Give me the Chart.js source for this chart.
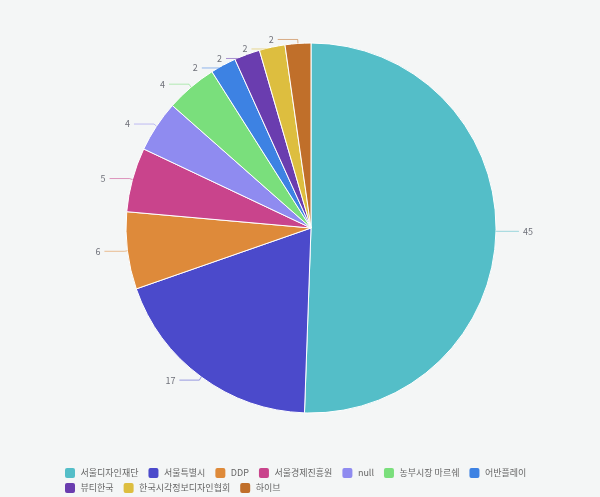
<!DOCTYPE html>
<html>
<head>
<meta charset="utf-8">
<script src="https://cdn.jsdelivr.net/npm/chart.js@4/dist/chart.umd.min.js"></script>
<style>
  html, body { margin: 0; padding: 0; background: #f4f6f6; }
  #wrap { width: 600px; height: 497px; position: relative; }
</style>
</head>
<body>
<div id="wrap"><canvas id="c" width="600" height="497"></canvas></div>
<script>
const categories = ['서울디자인재단', '서울특별시', 'DDP', '서울경제진흥원', 'null', '농부시장 마르쉐', '어반플레이', '뷰티한국', '한국시각정보디자인협회', '하이브'];
const values = [45, 17, 6, 5, 4, 4, 2, 2, 2, 2];
const colors = ['#54bec8', '#4b4acb', '#de8a3a', '#c9448c', '#8f8bf0', '#7adf7c', '#3d82e3', '#6a3daf', '#ddbe3f', '#c06f2a'];

const FONT = '"Noto Sans CJK KR", "Noto Sans", sans-serif';

function hexA(hex, a) {
  const n = parseInt(hex.slice(1), 16);
  return `rgba(${(n >> 16) & 255},${(n >> 8) & 255},${n & 255},${a})`;
}

const bgPlugin = {
  id: 'bg',
  beforeDraw(chart) {
    const ctx = chart.ctx;
    ctx.save();
    ctx.fillStyle = '#f4f6f6';
    ctx.fillRect(0, 0, chart.width, chart.height);
    ctx.restore();
  }
};

const labelPlugin = {
  id: 'leaderLabels',
  afterDatasetsDraw(chart) {
    const ctx = chart.ctx;
    const meta = chart.getDatasetMeta(0);
    const items = meta.data.map((arc, i) => {
      const p = arc.getProps(['x', 'y', 'startAngle', 'endAngle', 'outerRadius'], true);
      const m = (p.startAngle + p.endAngle) / 2;
      const r = p.outerRadius;
      const dir = Math.cos(m) >= 0 ? 1 : -1;
      return {
        i, dir,
        ax: p.x + r * Math.cos(m), ay: p.y + r * Math.sin(m),
        bx: p.x + (r + 3) * Math.cos(m),
        ly: p.y + (r + 4) * Math.sin(m)
      };
    });
    [1, -1].forEach(side => {
      const s = items.filter(o => o.dir === side).sort((a, b) => a.ly - b.ly);
      for (let k = 1; k < s.length; k++) {
        if (s[k].ly < s[k - 1].ly + 9.5) s[k].ly = s[k - 1].ly + 9.5;
      }
    });
    ctx.save();
    ctx.font = '9px ' + FONT;
    ctx.textBaseline = 'middle';
    items.forEach(o => {
      const ex = o.bx + o.dir * 20;
      ctx.strokeStyle = hexA(colors[o.i], 0.55);
      ctx.lineWidth = 1;
      ctx.beginPath();
      ctx.moveTo(o.ax, o.ay);
      ctx.lineTo(o.bx, o.ly);
      ctx.lineTo(ex, o.ly);
      ctx.stroke();
      ctx.fillStyle = '#6e7079';
      ctx.textAlign = o.dir > 0 ? 'left' : 'right';
      ctx.fillText(String(values[o.i]), ex + o.dir * 4, o.ly);
    });
    ctx.restore();
  }
};

const legendPlugin = {
  id: 'customLegend',
  afterDraw(chart) {
    const ctx = chart.ctx;
    ctx.save();
    ctx.font = '9px ' + FONT;
    ctx.textBaseline = 'middle';
    ctx.textAlign = 'left';
    const startX = 65, maxX = 545, rowY = [473, 488];
    let x = startX, row = 0;
    categories.forEach((label, i) => {
      const tw = ctx.measureText(label).width;
      const w = 10 + 5.5 + tw;
      if (x > startX && x + w > maxX) { row++; x = startX; }
      const y = rowY[row] !== undefined ? rowY[row] : rowY[0] + row * 15;
      ctx.fillStyle = colors[i];
      ctx.beginPath();
      if (ctx.roundRect) ctx.roundRect(x, y - 5, 10, 10, 2); else ctx.rect(x, y - 5, 10, 10);
      ctx.fill();
      ctx.fillStyle = '#666666';
      ctx.fillText(label, x + 15.5, y);
      x += w + 10;
    });
    ctx.restore();
  }
};

new Chart(document.getElementById('c'), {
  type: 'pie',
  data: {
    labels: categories,
    datasets: [{
      data: values,
      backgroundColor: colors,
      borderColor: '#ffffff',
      borderWidth: 1,
      radius: 185
    }]
  },
  options: {
    responsive: false,
    animation: false,
    layout: { padding: { left: 22, right: 0, top: 0, bottom: 41 } },
    plugins: {
      legend: { display: false },
      tooltip: { enabled: false }
    }
  },
  plugins: [bgPlugin, labelPlugin, legendPlugin]
});
</script>
</body>
</html>
